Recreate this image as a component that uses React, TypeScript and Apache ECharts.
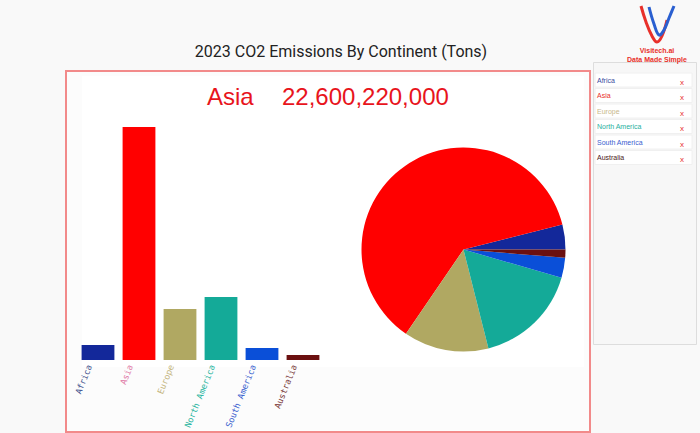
import React, { useEffect, useRef } from "react";
import * as echarts from "echarts";

const categories = ["Africa", "Asia", "Europe", "North America", "South America", "Australia"];
const emissions = [1450000000, 22600220000, 4950000000, 6100000000, 1160000000, 480000000];
const barColors = ["#13289a", "#ff0000", "#b0a862", "#14aa98", "#0a4fd8", "#6b1010"];
const axisLabelColors = ["#44548f", "#e07aa6", "#c4b57c", "#2ab5a0", "#3a62cf", "#7a3a3a"];
const legendColors = ["#3b4aa0", "#e8302a", "#c8b88a", "#2ab0a0", "#3a60d0", "#4a2020"];
const chartTitle = "2023 CO2 Emissions By Continent (Tons)";
const highlightIndex = 1;

export default function App() {
  const ref = useRef<HTMLDivElement>(null);
  useEffect(() => {
    if (!ref.current) return;
    const chart = echarts.init(ref.current, null, { renderer: "svg" });

    const legendGraphics: any[] = [];
    categories.forEach((c, i) => {
      const y = 73 + i * 15.5;
      legendGraphics.push({
        type: "rect",
        z: 1,
        shape: { x: 595, y: y, width: 97, height: 14 },
        style: { fill: "#ffffff", stroke: "#f0f0f0", lineWidth: 1 },
      });
      legendGraphics.push({
        type: "text",
        z: 2,
        x: 597,
        y: y + 7,
        style: { text: c, fill: legendColors[i], font: "7px 'Liberation Sans', Arial, sans-serif", textVerticalAlign: "middle" },
      });
      legendGraphics.push({
        type: "text",
        z: 2,
        x: 682,
        y: y + 9,
        style: { text: "x", fill: "#e83030", font: "8px 'Liberation Sans', Arial, sans-serif", textAlign: "center", textVerticalAlign: "middle" },
      });
    });

    const option: any = {
      animation: false,
      backgroundColor: "transparent",
      title: {
        text: chartTitle,
        left: 336,
        top: 38,
        textAlign: "center",
        textStyle: { fontFamily: "Roboto", fontSize: 16, fontWeight: "normal", color: "#222222" },
      },
      graphic: [
        {
          type: "rect",
          z: 0,
          shape: { x: 593.5, y: 62.5, width: 103, height: 282 },
          style: { fill: "#f7f7f7", stroke: "#dddddd", lineWidth: 1 },
        },
        ...legendGraphics,
        {
          type: "text",
          z: 3,
          x: 207,
          y: 96,
          style: {
            text: categories[highlightIndex],
            fill: "#e8141c",
            font: "24px 'Liberation Sans', Arial, sans-serif",
            textVerticalAlign: "middle",
          },
        },
        {
          type: "text",
          z: 3,
          x: 282,
          y: 96,
          style: {
            text: emissions[highlightIndex].toLocaleString("en-US"),
            fill: "#e8141c",
            font: "24px 'Liberation Sans', Arial, sans-serif",
            textVerticalAlign: "middle",
          },
        },
        {
          type: "polyline",
          z: 3,
          shape: { points: [[641, 6], [646, 22], [652, 36], [657, 42], [662, 36], [667, 20]], smooth: 0.4 },
          style: { stroke: "#e8302a", lineWidth: 3, fill: null },
        },
        {
          type: "polyline",
          z: 3,
          shape: { points: [[649, 7], [654, 24], [659, 35], [664, 30], [669, 18], [674, 6]], smooth: 0.4 },
          style: { stroke: "#2a5fd0", lineWidth: 3, fill: null },
        },
        {
          type: "text",
          z: 3,
          x: 657,
          y: 50,
          style: { text: "Visitech.ai", fill: "#e8302a", font: "bold 7px 'Liberation Sans', Arial, sans-serif", textAlign: "center", textVerticalAlign: "middle" },
        },
        {
          type: "text",
          z: 3,
          x: 657,
          y: 59,
          style: { text: "Data Made Simple", fill: "#e8302a", font: "bold 7px 'Liberation Sans', Arial, sans-serif", textAlign: "center", textVerticalAlign: "middle" },
        },
      ],
      grid: [
        { left: 77.5, top: 127, width: 246, height: 233, outerBoundsMode: "none", containLabel: false },
        { left: 69, top: 127, width: 246, height: 233, outerBoundsMode: "none", containLabel: false },
      ],
      xAxis: [
        {
          type: "category",
          gridIndex: 0,
          data: categories,
          axisLine: { show: false },
          axisTick: { show: false },
          axisLabel: { show: false },
        },
        {
          type: "category",
          gridIndex: 1,
          data: categories.map((c, i) => ({ value: c, textStyle: { color: axisLabelColors[i] } })),
          axisLine: { show: false },
          axisTick: { show: false },
          axisLabel: {
            rotate: 68,
            fontFamily: "DejaVu Sans Mono",
            fontSize: 8.6,
            margin: 5,
            interval: 0,
          },
        },
      ],
      yAxis: [
        { type: "value", gridIndex: 0, min: 0, max: emissions[highlightIndex], show: false, splitLine: { show: false } },
        { type: "value", gridIndex: 1, min: 0, max: emissions[highlightIndex], show: false, splitLine: { show: false } },
      ],
      series: [
        {
          type: "bar",
          xAxisIndex: 0,
          yAxisIndex: 0,
          barCategoryGap: "20%",
          data: emissions.map((v, i) => ({ value: v, itemStyle: { color: barColors[i] } })),
        },
        {
          type: "pie",
          center: [463.5, 249.5],
          radius: 102,
          startAngle: 0,
          clockwise: false,
          label: { show: false },
          labelLine: { show: false },
          data: categories.map((c, i) => ({ name: c, value: emissions[i], itemStyle: { color: barColors[i] } })),
        },
      ],
    };
    chart.setOption(option);
    return () => chart.dispose();
  }, []);
  return (
    <div style={{ position: "fixed", left: 0, top: 0, width: 700, height: 433, background: "#f9f9f9", overflow: "hidden" }}>
      <div
        style={{
          position: "absolute",
          left: 65,
          top: 70,
          width: 522,
          height: 359,
          border: "2px solid #f28a8a",
          background: "#fcfcfc",
        }}
      />
      <div style={{ position: "absolute", left: 82, top: 76, width: 502, height: 291, background: "#ffffff" }} />
      <div ref={ref} style={{ position: "absolute", left: 0, top: 0, width: 700, height: 433 }} />
    </div>
  );
}
